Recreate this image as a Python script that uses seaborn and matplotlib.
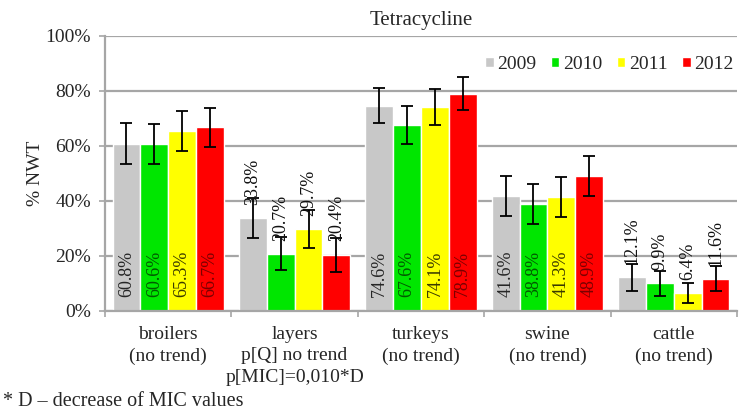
import matplotlib
matplotlib.use("Agg")
import matplotlib.pyplot as plt
from matplotlib.ticker import FixedLocator
import seaborn as sns
import pandas as pd

categories = ["broilers", "layers", "turkeys", "swine", "cattle"]
cat_labels = ["broilers\n(no trend)", "layers\np[Q] no trend\np[MIC]=0,010*D",
              "turkeys\n(no trend)", "swine\n(no trend)", "cattle\n(no trend)"]
years = ["2009", "2010", "2011", "2012"]
values = {
    "2009": [60.8, 33.8, 74.6, 41.6, 12.1],
    "2010": [60.6, 20.7, 67.6, 38.8, 9.9],
    "2011": [65.3, 29.7, 74.1, 41.3, 6.4],
    "2012": [66.7, 20.4, 78.9, 48.9, 11.6],
}
errors = {
    "2009": [7.3, 7.2, 6.5, 7.3, 4.9],
    "2010": [7.3, 6.0, 7.0, 7.4, 4.5],
    "2011": [7.2, 7.0, 6.5, 7.4, 3.5],
    "2012": [7.0, 6.2, 6.0, 7.2, 4.5],
}
colors = ["#c8c8c8", "#00e600", "#ffff00", "#ff0000"]
label_colors = ["#262626", "#005a00", "#3a3a00", "#7a0000"]

sns.set_theme(style="white")
plt.rcParams["font.family"] = ["Liberation Serif", "DejaVu Serif"]

rows = []
for y in years:
    for c, v in zip(categories, values[y]):
        rows.append({"category": c, "year": y, "value": v})
df = pd.DataFrame(rows)

fig = plt.figure(figsize=(7.42, 4.2), dpi=100)
ax = fig.add_axes([105/742, 1-310.7/420, 632/742, 275/420])

sns.barplot(data=df, x="category", y="value", hue="year", order=categories,
            hue_order=years, palette=colors, width=0.88, gap=0,
            errorbar=None, saturation=1, ax=ax, zorder=2)

grid_c = "#a6a6a6"
for i, y in enumerate(years):
    cont = ax.containers[i]
    for j, bar in enumerate(cont):
        xc = bar.get_x() + bar.get_width()/2
        h = bar.get_height()
        ax.errorbar(xc, h, yerr=errors[y][j], fmt="none", ecolor="black",
                    elinewidth=1.3, capsize=4.5, capthick=1.3, zorder=4)
        if h >= 35:
            ax.text(xc, 5, f"{values[y][j]:.1f}%", rotation=90, ha="center",
                    va="bottom", fontsize=13, color=label_colors[i], zorder=5)
        else:
            ax.text(xc, h + 4.8, f"{values[y][j]:.1f}%", rotation=90,
                    ha="center", va="bottom", fontsize=13, color="#111111",
                    zorder=5)

ax.set_ylim(0, 100)
ax.set_xlim(-0.5, 4.5)
ax.set_yticks([0, 20, 40, 60, 80, 100])
ax.set_yticklabels([f"{t}%" for t in [0, 20, 40, 60, 80, 100]], fontsize=14)
ax.yaxis.grid(True, color=grid_c, linewidth=1.6, zorder=0)
ax.set_axisbelow(True)

ax.set_xticks(range(len(categories)))
ax.set_xticklabels(cat_labels, fontsize=14, linespacing=1.33)
ax.xaxis.set_minor_locator(FixedLocator([-0.5, 0.5, 1.5, 2.5, 3.5, 4.5]))
ax.tick_params(axis="x", which="major", length=0, pad=11)
ax.tick_params(axis="x", which="minor", length=4, width=1.2, color=grid_c,
               direction="out", bottom=True)
ax.tick_params(axis="y", which="major", length=4, width=1.2, color=grid_c,
               direction="out", left=True, pad=6)

for s in ["top", "right"]:
    ax.spines[s].set_visible(False)
for s in ["left", "bottom"]:
    ax.spines[s].set_color(grid_c)
    ax.spines[s].set_linewidth(1.6)

ax.set_xlabel("")
ax.set_ylabel("% NWT", fontsize=14, labelpad=1)
ax.set_title("Tetracycline", fontsize=15, pad=8)

leg = ax.legend(loc="center right", bbox_to_anchor=(0.995, 0.895), ncol=4,
                frameon=False, fontsize=14, handlelength=0.42,
                handleheight=0.42, handletextpad=0.2, columnspacing=0.75,
                borderaxespad=0, borderpad=0)

fig.text(0.004, 0.045, "* D \u2013 decrease of MIC values", fontsize=14.5,
         ha="left", va="center")

fig.savefig("out.png", dpi=100)
